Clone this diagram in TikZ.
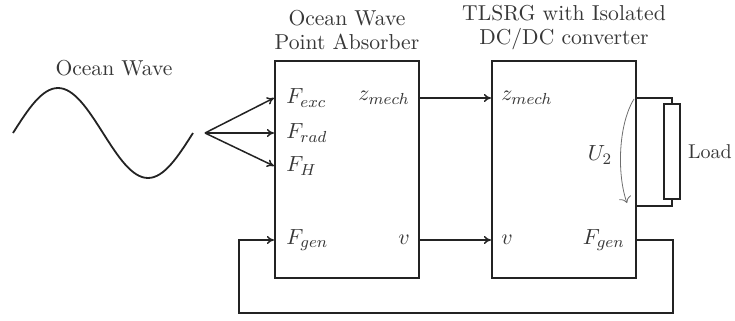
\documentclass[tikz,border=0pt]{standalone}
\usepackage{amsmath}
\usepackage{tikz}
\usetikzlibrary{arrows.meta, positioning, calc}
\definecolor{mydark}{RGB}{35,35,35}
\definecolor{mytext}{RGB}{55,55,55}
\definecolor{mygray}{RGB}{110,110,110}
\newcommand{\labelsize}{\fontsize{10.8}{11.8}\selectfont}
\tikzset{
  sysblock/.style={rectangle, draw=mydark, line width=1.1pt,
    minimum width=72pt, minimum height=108.5pt, inner sep=0pt},
  loadbox/.style={rectangle, draw=mydark, line width=0.8pt,
    minimum width=8pt, minimum height=47.5pt, inner sep=0pt},
  title/.style={align=center, font=\labelsize, text=mytext, inner sep=1pt},
  port/.style={inner sep=1pt, font=\labelsize, text=mytext},
  sig/.style={-{To[length=3.5pt, width=4pt]}, line width=0.75pt, color=mydark},
  wire/.style={line width=0.75pt, color=mydark},
  volt/.style={-{To[length=3pt]}, line width=0.4pt, color=mygray}
}
\begin{document}
\begin{tikzpicture}[x=0.5pt, y=-0.5pt]
  \useasboundingbox (0,0) rectangle (735,321);

  % blocks
  \node[sysblock] (wec) at (347,169.5) {};
  \node[sysblock] (gen) at (564,169.5) {};
  \node[title, above=4pt of wec] (wectitle) {Ocean Wave\\Point Absorber};
  \node[title, above=4pt of gen] (gentitle) {TLSRG with Isolated\\DC/DC converter};

  % rows of the ports
  \coordinate (rowexc) at (0,98);
  \coordinate (rowrad) at (0,133);
  \coordinate (rowh) at (0,166);
  \coordinate (rowgen) at (0,240);

  % ports of the point absorber
  \node[port, anchor=west, xshift=5pt] (fexc) at (wec.west |- rowexc) {$F_{exc}$};
  \node[port, anchor=west, xshift=5pt] (frad) at (wec.west |- rowrad) {$F_{rad}$};
  \node[port, anchor=west, xshift=5pt] (fh) at (wec.west |- rowh) {$F_{H}$};
  \node[port, anchor=west, xshift=5pt] (fgenin) at (wec.west |- rowgen) {$F_{gen}$};
  \node[port, anchor=east, xshift=-4pt] (zout) at (wec.east |- rowexc) {$z_{mech}$};
  \node[port, anchor=east, xshift=-4pt] (vout) at (wec.east |- rowgen) {$v$};

  % ports of the generator
  \node[port, anchor=west, xshift=4pt] (zin) at (gen.west |- rowexc) {$z_{mech}$};
  \node[port, anchor=west, xshift=4pt] (vin) at (gen.west |- rowgen) {$v$};
  \node[port, anchor=east, xshift=-5pt] (fgenout) at (gen.east |- rowgen) {$F_{gen}$};

  % ocean wave
  \node[port] (wavelabel) at (114,68) {Ocean Wave};
  \draw[wire, line width=0.9pt] (13,133) sin (58,88) cos (103,133) sin (148,178) cos (193,133);
  \coordinate (src) at (205,133);
  \draw[sig] (src) -- (wec.west |- fexc);
  \draw[sig] (src) -- (wec.west |- frad);
  \draw[sig] (src) -- (wec.west |- fh);

  % signals between the blocks
  \draw[sig] (zout.east -| wec.east) -- (gen.west |- zin);
  \draw[sig] (vout.east -| wec.east) -- (gen.west |- vin);

  % load
  \node[loadbox] (load) at (672,151.5) {};
  \node[port, font=\normalsize, inner sep=0.5pt, right=3pt of load] (loadlabel) {Load};
  \coordinate (lowwire) at (0,206);
  \draw[wire] (gen.east |- rowexc) -| (load.north);
  \draw[wire] (gen.east |- lowwire) -| (load.south);

  % voltage U2
  \coordinate (utop) at (634,99);
  \coordinate (ubot) at (627,203);
  \draw[volt] (utop) .. controls (618,125) and (617,175) .. (ubot);
  \node[port] (u2) at (600,155) {$U_2$};

  % feedback of the generator force
  \coordinate (fbright) at (673,313);
  \coordinate (fbleft) at (239,313);
  \draw[sig] (gen.east |- fgenout) -| (fbright) -- (fbleft) |- (wec.west |- fgenin);
\end{tikzpicture}
\end{document}
